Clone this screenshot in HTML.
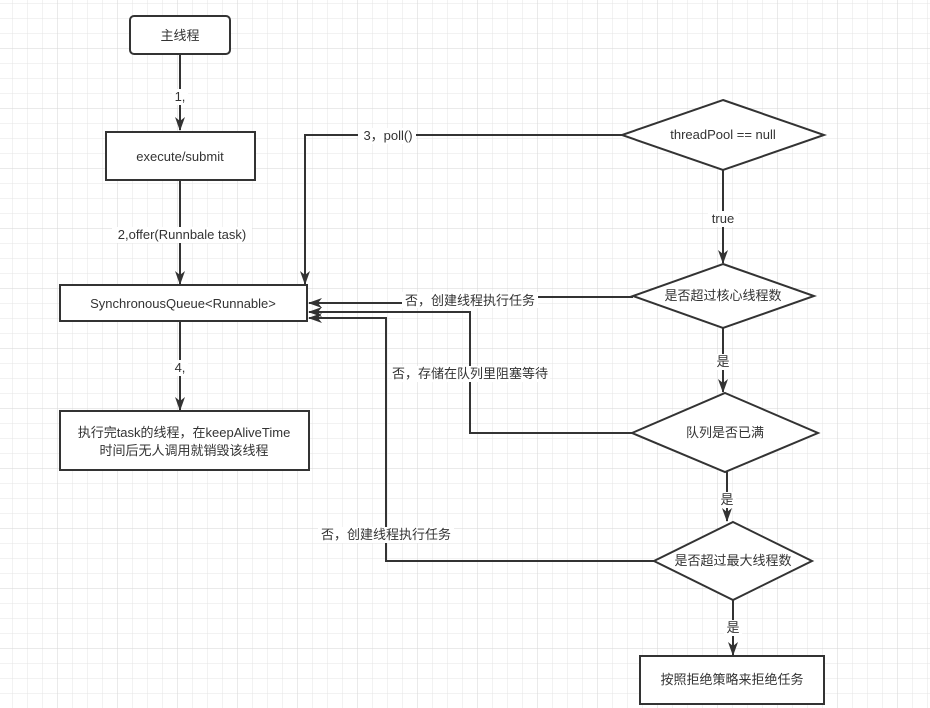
<!DOCTYPE html>
<html><head><meta charset="utf-8"><style>
html,body{margin:0;padding:0;background:#fff;}
svg{display:block;}
text{font-family:"Liberation Sans","Noto Sans CJK SC",sans-serif;font-size:13px;fill:#333;}
</style></head><body>
<svg width="930" height="708" viewBox="0 0 930 708" xmlns="http://www.w3.org/2000/svg">
<defs>
<pattern id="g" x="12" y="3" width="15" height="15" patternUnits="userSpaceOnUse">
<path d="M0 0H15M0 0V15" stroke="#e4e4e4" stroke-width="1" fill="none"/>
</pattern>
<pattern id="G" x="57" y="48" width="60" height="60" patternUnits="userSpaceOnUse">
<path d="M0 0H60M0 0V60" stroke="#d6d6d6" stroke-width="1" fill="none"/>
</pattern>
<marker id="a" viewBox="0 0 14 10" refX="13" refY="5" markerWidth="14" markerHeight="10" orient="auto" markerUnits="userSpaceOnUse">
<path d="M0 0L14 5L0 10L4 5Z" fill="#333"/>
</marker>
</defs>
<rect width="930" height="708" fill="url(#g)"/>
<rect width="930" height="708" fill="url(#G)"/>
<g stroke="#333" stroke-width="2" fill="none">
<line x1="180" y1="54" x2="180" y2="130" marker-end="url(#a)"/>
<line x1="180" y1="180" x2="180" y2="284" marker-end="url(#a)"/>
<line x1="180" y1="321" x2="180" y2="410" marker-end="url(#a)"/>
<polyline points="622,135 305,135 305,284" marker-end="url(#a)"/>
<line x1="723" y1="170" x2="723" y2="263" marker-end="url(#a)"/>
<polyline points="633,297 470,297 470,303 309,303" marker-end="url(#a)"/>
<polyline points="633,433 470,433 470,312 309,312" marker-end="url(#a)"/>
<polyline points="654,561 386,561 386,318 309,318" marker-end="url(#a)"/>
<line x1="723" y1="328" x2="723" y2="392" marker-end="url(#a)"/>
<line x1="727" y1="472" x2="727" y2="521" marker-end="url(#a)"/>
<line x1="733" y1="600" x2="733" y2="655" marker-end="url(#a)"/>
</g>
<g stroke="#333" stroke-width="2" fill="#fff">
<rect x="130" y="16" width="100" height="38" rx="4"/>
<rect x="106" y="132" width="149" height="48"/>
<rect x="60" y="285" width="247" height="36"/>
<rect x="60" y="411" width="249" height="59"/>
<rect x="640" y="656" width="184" height="48"/>
<polygon points="723,100 824,135 723,170 622,135"/>
<polygon points="723,264 814,296 723,328 633,296"/>
<polygon points="725,393 818,433 725,472 632,433"/>
<polygon points="733,522 812,561 733,600 654,561"/>
</g>
<g fill="#fff">
<rect x="172" y="89" width="16" height="16"/>
<rect x="112" y="227" width="140" height="16"/>
<rect x="172" y="360" width="16" height="16"/>
<rect x="358" y="128" width="58" height="16"/>
<rect x="708" y="211" width="30" height="16"/>
<rect x="402" y="292" width="136" height="16"/>
<rect x="392" y="366" width="158" height="16"/>
<rect x="318" y="527" width="136" height="16"/>
<rect x="714" y="354" width="18" height="16"/>
<rect x="718" y="492" width="18" height="16"/>
<rect x="724" y="620" width="18" height="16"/>
</g>
<g text-anchor="middle">
<text x="180" y="40">主线程</text>
<text x="180" y="101">1,</text>
<text x="180" y="161">execute/submit</text>
<text x="182" y="239">2,offer(Runnbale task)</text>
<text x="183" y="308">SynchronousQueue&lt;Runnable&gt;</text>
<text x="180" y="372">4,</text>
<text x="184" y="437">执行完task的线程，在keepAliveTime</text>
<text x="184" y="455">时间后无人调用就销毁该线程</text>
<text x="388" y="140">3，poll()</text>
<text x="723" y="139">threadPool == null</text>
<text x="723" y="223">true</text>
<text x="723" y="300">是否超过核心线程数</text>
<text x="470" y="305">否，创建线程执行任务</text>
<text x="470" y="378">否，存储在队列里阻塞等待</text>
<text x="723" y="366">是</text>
<text x="725" y="437">队列是否已满</text>
<text x="727" y="504">是</text>
<text x="386" y="539">否，创建线程执行任务</text>
<text x="733" y="565">是否超过最大线程数</text>
<text x="733" y="632">是</text>
<text x="732" y="684">按照拒绝策略来拒绝任务</text>
</g>
</svg>
</body></html>
